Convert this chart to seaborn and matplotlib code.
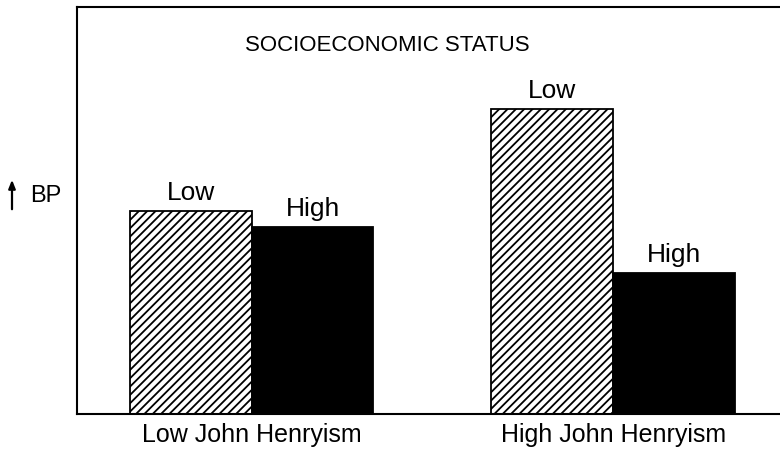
import matplotlib
matplotlib.use("Agg")
import matplotlib.pyplot as plt
import seaborn as sns
import pandas as pd

# values (arbitrary BP units)
groups = ["Low John Henryism", "Low John Henryism", "High John Henryism", "High John Henryism"]
ses = ["Low", "High", "Low", "High"]
bp = [2.03, 1.87, 3.05, 1.41]
bar_labels = {"Low": ["Low", "Low"], "High": ["High", "High"]}

df = pd.DataFrame({"group": groups, "ses": ses, "bp": bp})

sns.set_style("white")
plt.rcParams['font.family'] = ['Liberation Sans', 'DejaVu Sans']
plt.rcParams['hatch.linewidth'] = 1.3
plt.rcParams['text.color'] = 'black'
plt.rcParams['xtick.color'] = 'black'

fig = plt.figure(figsize=(7.8, 4.52), dpi=100)
ax = fig.add_axes([0.0987, 0.082, 0.91, 0.9])

sns.barplot(data=df, x="group", y="bp", hue="ses", hue_order=["Low", "High"],
            palette={"Low": "white", "High": "black"}, width=0.674,
            edgecolor="black", linewidth=1.3, legend=False, ax=ax)

# hatch the low SES bars
for patch in ax.containers[0]:
    patch.set_hatch("////")

for cont, key in zip(ax.containers, ["Low", "High"]):
    ax.bar_label(cont, labels=bar_labels[key], padding=5, fontsize=19, color="black")

ax.set_xlim(-0.483, 1.48)
ax.set_ylim(0, 4.07)
ax.set_xlabel("")
ax.set_ylabel("")
ax.set_yticks([])
ax.tick_params(axis="x", length=0, labelsize=18, pad=6, labelcolor="black")

for side in ["left", "top", "bottom"]:
    ax.spines[side].set_linewidth(1.5)
    ax.spines[side].set_color("black")
ax.spines["right"].set_visible(False)

fig.text(0.496, 0.900, "SOCIOECONOMIC STATUS", ha="center", va="center",
         fontsize=16, color="black")
fig.text(0.059, 0.566, "BP", ha="center", va="center", fontsize=17, color="black")
ax.annotate("", xy=(12, 274), xytext=(12, 239), xycoords="figure pixels",
            textcoords="figure pixels",
            arrowprops=dict(arrowstyle="-|>,head_length=0.5,head_width=0.2",
                            color="black", lw=1.6))

fig.savefig("out.png", dpi=100)
